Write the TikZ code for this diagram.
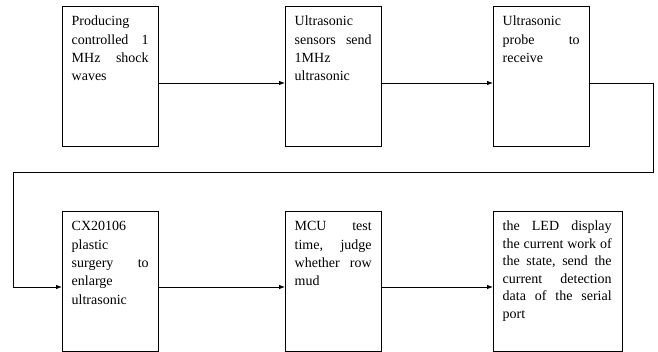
\documentclass[tikz,border=0pt]{standalone}
\usepackage{fontspec}
\setmainfont{Liberation Serif}
\usetikzlibrary{arrows.meta}
\newcommand{\jl}[1]{\leavevmode\hbox to \hsize{#1}}
\newcommand{\gp}{\hspace{0pt plus 1fill}}
\begin{document}
\begin{tikzpicture}[x=1pt,y=1pt,
  box/.style={draw, line width=0.8pt, anchor=north west, inner sep=0pt, minimum width=96pt, minimum height=140pt},
  wbox/.style={box, minimum width=129pt},
  txt/.style={anchor=base west, inner sep=0pt, text width=77pt, align=left, font=\fontsize{14}{18.3}\selectfont},
  wtxt/.style={txt, text width=109pt, font=\fontsize{14}{17.5}\selectfont},
  arr/.style={line width=0.8pt, line join=miter, -{Latex[length=6pt,width=4.5pt]}}]
\useasboundingbox (0,0) rectangle (658,352);
% boxes
\node[box] (b1) at (62,346) {};
\node[box] (b2) at (285,346) {};
\node[box] (b3) at (493,346) {};
\node[box] (b4) at (62,141) {};
\node[box] (b5) at (285,141) {};
\node[wbox] (b6) at (493,141) {};
% texts
\node[txt] (t1) at ([shift={(9.5,-20)}]b1.north west) {Producing\\\jl{controlled\gp 1}\\\jl{MHz\gp shock}\\waves};
\node[txt] (t2) at ([shift={(9.5,-20)}]b2.north west) {Ultrasonic\\\jl{sensors\gp send}\\1MHz\\ultrasonic};
\node[txt] (t3) at ([shift={(9.5,-20)}]b3.north west) {Ultrasonic\\\jl{probe\gp to}\\receive};
\node[txt] (t4) at ([shift={(9.5,-20)}]b4.north west) {CX20106\\plastic\\\jl{surgery\gp to}\\enlarge\\ultrasonic};
\node[txt] (t5) at ([shift={(9.5,-20)}]b5.north west) {\jl{MCU\gp test}\\\jl{time,\gp judge}\\\jl{whether\gp row}\\mud};
\node[wtxt] (t6) at ([shift={(9.5,-20)}]b6.north west) {\jl{the\gp LED\gp display}\\\jl{the\gp current\gp work\gp of}\\\jl{the\gp state,\gp send\gp the}\\\jl{current\gp detection}\\\jl{data\gp of\gp the\gp serial}\\port};
% connectors
\coordinate (c1) at (653,269);
\coordinate (c2) at (653,180);
\coordinate (c3) at (13,180);
\coordinate (c4) at (13,65);
\draw[arr] (b1.east |- c1) -- (b2.west |- c1);
\draw[arr] (b2.east |- c1) -- (b3.west |- c1);
\draw[arr] (b3.east |- c1) -- (c1) -- (c2) -- (c3) -- (c4) -- (b4.west |- c4);
\draw[arr] (b4.east |- c4) -- (b5.west |- c4);
\draw[arr] (b5.east |- c4) -- (b6.west |- c4);
\end{tikzpicture}
\end{document}
